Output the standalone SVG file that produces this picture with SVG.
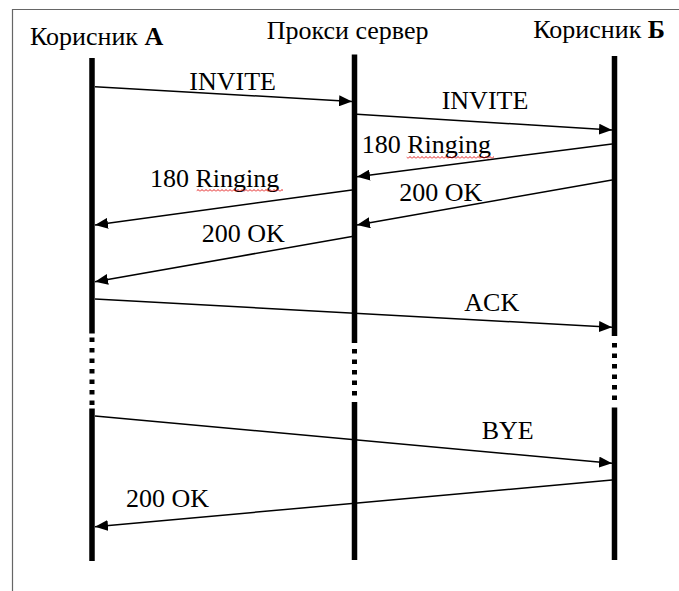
<svg xmlns="http://www.w3.org/2000/svg" width="679" height="591" viewBox="0 0 679 591">
<style>
  text { font-family: 'Liberation Serif', 'Times New Roman', 'DejaVu Serif', serif; font-size: 26px; fill: #000; }
  .b { font-weight: bold; }
  .life { stroke: #000; stroke-width: 5.5; fill: none; }
  .dots { stroke: #000; stroke-width: 5; fill: none; stroke-dasharray: 4.5 6; }
  .msg { stroke: #000; stroke-width: 1.5; fill: none; marker-end: url(#ah); }
  .frame { stroke: #666; stroke-width: 1.2; fill: none; }
  .spell { fill: url(#wave); }
</style>
<defs>
  <marker id="ah" viewBox="0 0 13 11" refX="13" refY="5.5" markerWidth="13" markerHeight="11" markerUnits="userSpaceOnUse" orient="auto">
    <path d="M0,0 L13,5.5 L0,11 z" fill="#000"/>
  </marker>
  <pattern id="wave" patternUnits="userSpaceOnUse" x="0" y="0" width="4" height="3">
    <path d="M0,2.5 L2,0.5 L4,2.5" stroke="#e00000" stroke-width="0.9" fill="none"/>
  </pattern>
</defs>
<rect width="679" height="591" fill="#fff"/>
<path class="frame" d="M12.5,591 L12.5,9.5 L679,9.5"/>

<g id="userA">
  <text font-family="Liberation Serif, serif" x="30" y="45">Корисник <tspan class="b">А</tspan></text>
  <line class="life" x1="92" y1="58" x2="92" y2="333.5"/>
  <line class="dots" x1="92" y1="337.5" x2="92" y2="405"/>
  <line class="life" x1="92" y1="408.5" x2="92" y2="561"/>
</g>

<g id="proxy">
  <text x="266.7" y="38.5">Прокси сервер</text>
  <line class="life" x1="354.5" y1="54.5" x2="354.5" y2="343"/>
  <line class="dots" x1="354.5" y1="349" x2="354.5" y2="397"/>
  <line class="life" x1="354.5" y1="402" x2="354.5" y2="560"/>
</g>

<g id="userB">
  <text x="533.3" y="37.5">Корисник <tspan class="b">Б</tspan></text>
  <line class="life" x1="614.5" y1="56" x2="614.5" y2="336"/>
  <line class="dots" x1="614.5" y1="343" x2="614.5" y2="402"/>
  <line class="life" x1="614.5" y1="407.5" x2="614.5" y2="560"/>
</g>

<g id="connectors">
  <line class="msg" x1="95" y1="86.7" x2="352" y2="101.5"/>
  <text x="189.3" y="90">INVITE</text>

  <line class="msg" x1="357" y1="114.3" x2="612" y2="130"/>
  <text x="441.7" y="109.3">INVITE</text>

  <line class="msg" x1="612" y1="144" x2="357" y2="176.7"/>
  <text x="361.7" y="152.7">180 Ringing</text>
  <rect class="spell" x="406.7" y="156" width="87.3" height="3"/>

  <line class="msg" x1="612" y1="180" x2="357" y2="225"/>
  <text x="399.3" y="201">200 OK</text>

  <line class="msg" x1="352" y1="190" x2="95" y2="225"/>
  <text x="150" y="186.7">180 Ringing</text>
  <rect class="spell" x="196.7" y="189" width="86.3" height="3"/>

  <line class="msg" x1="352" y1="236.5" x2="95" y2="281.7"/>
  <text x="201.7" y="242.3">200 OK</text>

  <line class="msg" x1="95" y1="299" x2="612" y2="327.3"/>
  <text x="464.3" y="310.7">ACK</text>

  <line class="msg" x1="95" y1="416" x2="612" y2="463.3"/>
  <text x="481.7" y="439.3">BYE</text>

  <line class="msg" x1="612" y1="480" x2="95" y2="526.7"/>
  <text x="126" y="506.7">200 OK</text>
</g>
</svg>
